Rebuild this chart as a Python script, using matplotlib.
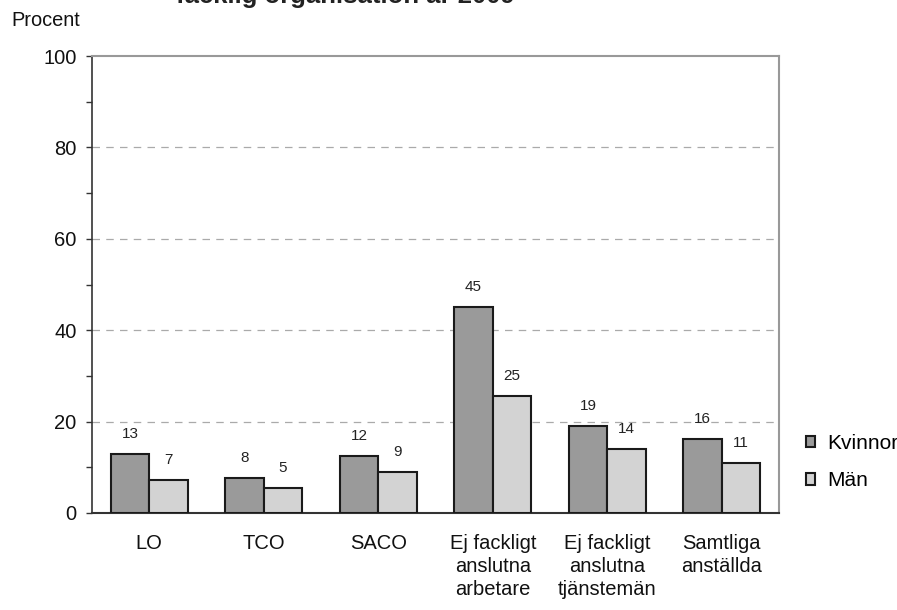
import matplotlib
matplotlib.use("Agg")
import matplotlib.pyplot as plt
import numpy as np
from matplotlib.ticker import MultipleLocator

plt.rcParams['font.family'] = ['Liberation Sans', 'DejaVu Sans']

categories = ["LO", "TCO", "SACO", "Ej fackligt\nanslutna\narbetare",
              "Ej fackligt\nanslutna\ntjänstemän", "Samtliga\nanställda"]
kvinnor = [12.9, 7.7, 12.4, 45.0, 19.0, 16.1]
man = [7.3, 5.5, 9.0, 25.5, 14.0, 11.0]
kvinnor_labels = ["13", "8", "12", "45", "19", "16"]
man_labels = ["7", "5", "9", "25", "14", "11"]
series_names = ["Kvinnor", "Män"]
title = "facklig organisation år 2009"
ylabel = "Procent"
yticks = [0, 20, 40, 60, 80, 100]

fig = plt.figure(figsize=(8.97, 6.10), dpi=100)
ax = fig.add_axes([92/897, 1-513/610, (779-92)/897, (513-56)/610])

x = np.arange(len(categories))
w = 0.336
ax.bar(x - w/2, kvinnor, w, color="#9a9a9a", edgecolor="#1a1a1a", linewidth=1.5,
       label=series_names[0], zorder=3)
ax.bar(x + w/2, man, w, color="#d3d3d3", edgecolor="#1a1a1a", linewidth=1.5,
       label=series_names[1], zorder=3)

for xi, v, lab in zip(x - w/2, kvinnor, kvinnor_labels):
    ax.annotate(lab, (xi, v), xytext=(0, 14.5), textcoords="offset points",
                ha="center", va="center", fontsize=11, color="#222222")
for xi, v, lab in zip(x + w/2, man, man_labels):
    ax.annotate(lab, (xi, v), xytext=(0, 14.5), textcoords="offset points",
                ha="center", va="center", fontsize=11, color="#222222")

ax.set_xlim(-0.5, len(categories) - 0.5)
ax.set_ylim(0, 100)
ax.set_yticks(yticks)
ax.yaxis.set_minor_locator(MultipleLocator(10))
ax.set_xticks(x)
ax.set_xticklabels(categories, fontsize=14.5, linespacing=1.27, color="#111111")
ax.tick_params(axis="x", length=0, pad=15)
ax.tick_params(axis="y", which="major", length=4, width=1, color="#333333",
               labelsize=14.5, pad=7, labelcolor="#111111")
ax.tick_params(axis="y", which="minor", length=4, width=1, color="#333333")

for yv in yticks[1:-1]:
    ax.axhline(yv, color="#aaaaaa", linestyle=(0, (6, 5)), linewidth=0.9, zorder=1)

ax.spines["left"].set_color("#333333")
ax.spines["left"].set_linewidth(1.2)
ax.spines["bottom"].set_color("#333333")
ax.spines["bottom"].set_linewidth(1.5)
ax.spines["top"].set_color("#999999")
ax.spines["top"].set_linewidth(1.5)
ax.spines["right"].set_color("#999999")
ax.spines["right"].set_linewidth(1.5)

fig.text(11/897, 1-21/610, ylabel, fontsize=14.4, ha="left", va="center", color="#111111")
fig.text(345/897, 1-2.5/610, title, fontsize=18.5, fontweight="bold", ha="center",
         va="baseline", color="#222222")

ax.legend(loc="center left", bbox_to_anchor=(806/897, 1-462/610),
          bbox_transform=fig.transFigure, frameon=False,
          fontsize=15, handlelength=0.45, handleheight=0.45, handletextpad=0.55,
          labelspacing=0.9, borderaxespad=0, borderpad=0)

fig.savefig("out.png", dpi=100)
